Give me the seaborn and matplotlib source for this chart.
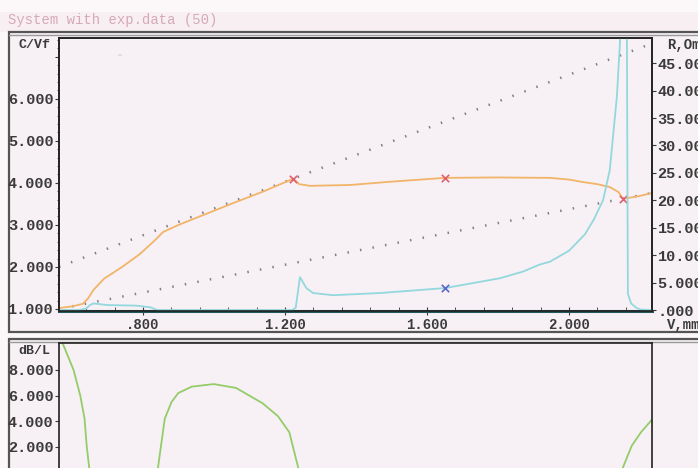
"""
capacitance / resistance sweep with experimental data, two stacked panels
"""

import matplotlib
matplotlib.use("Agg")
import matplotlib.pyplot as plt
import matplotlib.ticker as mticker
from matplotlib.patches import Rectangle
from matplotlib.lines import Line2D
import seaborn as sns

# ---- data ----
# C/Vf curve (left axis of upper panel)
cvf_x = [0.563, 0.600, 0.630, 0.645, 0.660, 0.690, 0.741, 0.790, 0.834, 0.856,
         0.900, 0.980, 1.054, 1.140, 1.223, 1.240, 1.270, 1.383, 1.500, 1.651,
         1.800, 1.946, 2.000, 2.039, 2.080, 2.115, 2.140, 2.152, 2.200, 2.234]
cvf_y = [1.02, 1.06, 1.12, 1.25, 1.45, 1.72, 2.00, 2.30, 2.64, 2.83,
         3.00, 3.27, 3.52, 3.80, 4.10, 3.97, 3.93, 3.95, 4.03, 4.12,
         4.13, 4.12, 4.08, 4.02, 3.97, 3.90, 3.78, 3.62, 3.69, 3.76]

# R curve (right axis of upper panel)
r_x = [0.563, 0.620, 0.640, 0.650, 0.660, 0.700, 0.780, 0.820, 0.840, 1.000,
       1.220, 1.230, 1.242, 1.260, 1.279, 1.335, 1.468, 1.651, 1.806, 1.870,
       1.918, 1.946, 2.000, 2.045, 2.070, 2.096, 2.115, 2.135, 2.144, 2.152,
       2.160, 2.163, 2.166, 2.175, 2.190, 2.200, 2.234]
r_y = [0.0, 0.0, 0.3, 0.9, 1.2, 0.9, 0.8, 0.5, 0.0, 0.0,
       0.0, 0.4, 6.0, 4.0, 3.1, 2.7, 3.1, 4.0, 5.8, 7.0,
       8.3, 8.8, 10.8, 13.8, 16.5, 20.0, 25.5, 38.9, 49.0, 60.0,
       60.0, 55.0, 3.0, 1.2, 0.4, 0.1, 0.0]

# tangent lines (dotted), left-axis units
tan1_x = [0.563, 2.234]
tan1_y = [2.00, 7.32]
tan2_x = [0.600, 2.234]
tan2_y = [1.06, 3.76]

# marked points
red_x = [1.223, 1.651, 2.152]
red_y = [4.10, 4.12, 3.62]
blue_x = [1.651]
blue_r = [4.0]
dash_x = [0.735]
dash_y = [7.05]

# dB/L curve (lower panel)
db_x = [0.573, 0.604, 0.623, 0.635, 0.641, 0.648, 0.660, 0.745, 0.830, 0.842,
        0.861, 0.880, 0.899, 0.937, 0.999, 1.062, 1.137, 1.180, 1.212, 1.237,
        1.250, 1.700, 2.140, 2.152, 2.177, 2.203, 2.236]
db_y = [10.1, 8.0, 6.0, 4.2, 2.1, 0.4, -2.5, -8.0, -2.5, 0.4,
        4.2, 5.5, 6.2, 6.7, 6.9, 6.6, 5.4, 4.4, 3.15, 0.4,
        -2.0, -20.0, -2.0, 0.4, 2.1, 3.15, 4.2]

left_ticks = [1, 2, 3, 4, 5, 6, 7]
right_ticks = [0, 5, 10, 15, 20, 25, 30, 35, 40, 45]
x_ticks = [0.8, 1.2, 1.6, 2.0]
db_ticks = [0, 2, 4, 6, 8]

# ---- style ----
W, H = 698, 468
sns.set_style("ticks")
plt.rcParams["font.family"] = ["Liberation Mono", "DejaVu Sans Mono"]
plt.rcParams["font.weight"] = "bold"

BG = "#f7f1f6"
ORANGE = "#f2b468"
CYAN = "#92d8dc"
GREEN = "#94cc68"
DOTS = "#808080"
INK = "#3a3a3a"


def fmt(v, pos=None):
    s = f"{v:.3f}"
    if s.startswith("0."):
        s = s[1:]
    return s[:5]


def fx(px):
    return px / W


def fy(py):
    return 1 - py / H


fig = plt.figure(figsize=(W / 100, H / 100), dpi=100, facecolor="#fcf8fa")

# window decorations (behind the axes)
fig.patches.append(Rectangle((0, fy(32)), 1, fy(12) - fy(32), transform=fig.transFigure,
                             facecolor="#f8eff3", edgecolor="none", zorder=-10))
fig.patches.append(Rectangle((fx(9), fy(332)), 1, fy(32) - fy(332), transform=fig.transFigure,
                             facecolor=BG, edgecolor="#555555", lw=1.6, zorder=-10))
fig.patches.append(Rectangle((fx(9), fy(490)), 1, fy(339) - fy(490), transform=fig.transFigure,
                             facecolor=BG, edgecolor="#555555", lw=1.6, zorder=-10))
for yy in (35, 342):
    fig.lines.append(Line2D([fx(9), 1], [fy(yy), fy(yy)], transform=fig.transFigure,
                            color="#9a9a9a", lw=1.0, zorder=-9))
fig.text(fx(8), fy(24), "System with exp.data (50)", color="#d6a8b8",
         fontsize=10, fontweight="normal", va="baseline")

# ---- upper panel ----
ax = fig.add_axes([fx(59), fy(311), fx(652) - fx(59), fy(38) - fy(311)])
ax.set_facecolor(BG)
ax2 = ax.twinx()

sns.lineplot(x=tan1_x, y=tan1_y, ax=ax, color=DOTS, lw=1.8, linestyle=(0, (0.6, 4.5)),
             estimator=None, sort=False)
sns.lineplot(x=tan2_x, y=tan2_y, ax=ax, color=DOTS, lw=1.8, linestyle=(0, (0.6, 4.5)),
             estimator=None, sort=False)
sns.lineplot(x=cvf_x, y=cvf_y, ax=ax, color=ORANGE, lw=1.3, estimator=None, sort=False)
sns.scatterplot(x=red_x, y=red_y, ax=ax, marker="x", color="#e0606a", s=28,
                linewidth=1.2, zorder=5)
sns.scatterplot(x=dash_x, y=dash_y, ax=ax, marker="_", color="#888888", s=12, zorder=5)

sns.lineplot(x=r_x, y=r_y, ax=ax2, color=CYAN, lw=1.3, estimator=None, sort=False)
sns.scatterplot(x=blue_x, y=blue_r, ax=ax2, marker="x", color="#5a68c8", s=28,
                linewidth=1.2, zorder=5)

ax.set_xlim(0.563, 2.234)
ax.set_ylim(0.95, 7.45)
ax2.set_ylim(-0.18, 49.6)

ax.set_xticks(x_ticks)
ax.xaxis.set_minor_locator(mticker.MultipleLocator(0.08))
ax.xaxis.set_major_formatter(mticker.FuncFormatter(fmt))
ax.set_yticks(left_ticks)
ax.set_yticklabels([fmt(v) for v in left_ticks[:-1]] + [""])
ax.yaxis.set_minor_locator(mticker.MultipleLocator(0.2))
ax2.set_yticks(right_ticks)
ax2.yaxis.set_major_formatter(mticker.FuncFormatter(fmt))

ax.tick_params(axis="x", direction="inout", length=6, labelsize=10, colors=INK, pad=2)
ax.tick_params(axis="x", which="minor", direction="in", length=3, color=INK)
ax.tick_params(axis="y", direction="out", length=3, labelsize=11, colors=INK, pad=1)
ax.tick_params(axis="y", which="minor", direction="out", length=1.5, color=INK)
ax2.tick_params(axis="y", direction="out", length=3, labelsize=11, colors=INK, pad=1)

for a in (ax, ax2):
    for sp in a.spines.values():
        sp.set_color("#222222")
        sp.set_linewidth(1.2)
ax.spines["bottom"].set_color("#24585a")
ax.spines["bottom"].set_linewidth(2.2)
ax.set_xlabel("")
ax.set_ylabel("")
ax2.set_ylabel("")

ax.text(-0.015, 0.975, "C/Vf", transform=ax.transAxes, ha="right", va="center",
        fontsize=9.5, color=INK)
ax2.text(1.025, 0.975, "R,Om", transform=ax2.transAxes, ha="left", va="center",
         fontsize=10, color=INK)
ax.text(1.025, -0.05, "V,mm", transform=ax.transAxes, ha="left", va="center",
        fontsize=10, color=INK)

# ---- lower panel ----
bx = fig.add_axes([fx(59), fy(490), fx(652) - fx(59), fy(343) - fy(490)])
bx.set_facecolor(BG)
sns.lineplot(x=db_x, y=db_y, ax=bx, color=GREEN, lw=1.3, estimator=None, sort=False)
bx.set_xlim(0.563, 2.234)
bx.set_ylim(-1.35, 10.1)
bx.set_yticks(db_ticks)
bx.yaxis.set_major_formatter(mticker.FuncFormatter(fmt))
bx.set_xticks([])
bx.tick_params(axis="y", direction="out", length=3, labelsize=11, colors=INK, pad=1)
for sp in bx.spines.values():
    sp.set_color("#222222")
    sp.set_linewidth(1.2)
bx.set_xlabel("")
bx.set_ylabel("")
bx.text(-0.015, 0.945, "dB/L", transform=bx.transAxes, ha="right", va="center",
        fontsize=9.5, color=INK)

fig.savefig("out.png", dpi=100, facecolor=fig.get_facecolor())
